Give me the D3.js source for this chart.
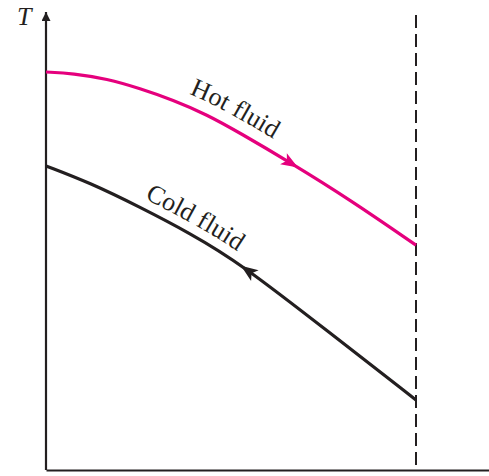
<!DOCTYPE html>
<html>
<head>
<meta charset="utf-8">
<script src="https://cdn.jsdelivr.net/npm/d3@7"></script>
<style>
  body { margin: 0; background: #fff; }
  svg { display: block; }
  .lbl { font-family: "Liberation Serif", "DejaVu Serif", serif; font-size: 26px; fill: #231f20; }
</style>
</head>
<body>
<svg id="chart" width="489" height="476"></svg>
<script>
// position along the exchanger (0 = inlet, 100 = outlet) and temperature
const hotX = [0, 7.3, 16.5, 25.4, 34.3, 43.5, 52.4, 65.9, 82.2, 100];
const hotT = [86.9, 86.6, 85.4, 83.3, 80.8, 77.6, 73.6, 67.2, 59.0, 49.1];
const coldX = [0, 11.9, 25.4, 38.9, 52.4, 76.8, 100];
const coldT = [66.4, 62.7, 57.4, 51.7, 45.2, 29.9, 15.3];
const labels = ['Hot fluid', 'Cold fluid'];

const svg = d3.select('#chart');
const x0 = 46, x1 = 416, yBot = 470, yTop = 12;

const x = d3.scaleLinear().domain([0, 100]).range([x0, x1]);
const y = d3.scaleLinear().domain([0, 100]).range([yBot, yTop]);

const ink = '#231f20';
const magenta = '#e5007d';

// arrow heads
const defs = svg.append('defs');
function marker (id, color, w, h) {
  defs.append('marker')
    .attr('id', id)
    .attr('viewBox', '0 0 10 10')
    .attr('refX', 10).attr('refY', 5)
    .attr('markerWidth', w).attr('markerHeight', h)
    .attr('markerUnits', 'userSpaceOnUse')
    .attr('orient', 'auto')
    .append('path')
    .attr('d', 'M0,0 L10,5 L0,10 Z')
    .attr('fill', color);
}
marker('axArrow', ink, 16, 9);

// axes: just the domain lines, no ticks
const xAxisScale = d3.scaleLinear().domain([0, 1]).range([x0, 489]);
svg.append('g')
  .attr('transform', 'translate(0,' + yBot + ')')
  .call(d3.axisBottom(xAxisScale).tickValues([]).tickSizeOuter(0))
  .select('.domain').attr('stroke', ink).attr('stroke-width', 2.2);

svg.append('g')
  .attr('transform', 'translate(' + x0 + ',0)')
  .call(d3.axisLeft(y).tickValues([]).tickSizeOuter(0))
  .select('.domain').attr('stroke', ink).attr('stroke-width', 2.2)
  .attr('marker-end', 'url(#axArrow)')
  .attr('d', 'M0,' + yBot + 'V' + yTop);

svg.append('text')
  .attr('class', 'lbl')
  .attr('x', 17).attr('y', 25)
  .style('font-style', 'italic')
  .text('T');

// outlet boundary
svg.append('line')
  .attr('x1', x(100)).attr('x2', x(100))
  .attr('y1', 15).attr('y2', yBot)
  .attr('stroke', ink)
  .attr('stroke-width', 2)
  .attr('stroke-dasharray', '13,6');

const line = d3.line()
  .x(d => x(d[0]))
  .y(d => y(d[1]))
  .curve(d3.curveBasis);

const hot = hotX.map((v, i) => [v, hotT[i]]);
const cold = coldX.map((v, i) => [v, coldT[i]]);

const hotPath = svg.append('path')
  .attr('id', 'hotPath')
  .attr('d', line(hot))
  .attr('fill', 'none')
  .attr('stroke', magenta)
  .attr('stroke-width', 3.2);

const coldPath = svg.append('path')
  .attr('id', 'coldPath')
  .attr('d', line(cold))
  .attr('fill', 'none')
  .attr('stroke', ink)
  .attr('stroke-width', 3.2);

function lengthAtX (node, px) {
  let lo = 0, hi = node.getTotalLength();
  for (let k = 0; k < 40; k++) {
    const mid = (lo + hi) / 2;
    if (node.getPointAtLength(mid).x < px) lo = mid; else hi = mid;
  }
  return lo;
}

// flow direction arrows drawn on the curve
function flowArrow (node, tipX, dir, color) {
  const L = lengthAtX(node, tipX);
  const tip = node.getPointAtLength(L);
  const back = node.getPointAtLength(L - dir * 14);
  const ang = Math.atan2(tip.y - back.y, tip.x - back.x) * 180 / Math.PI;
  svg.append('path')
    .attr('d', 'M0,0 L-17,-6.5 L-13,0 L-17,6.5 Z')
    .attr('fill', color)
    .attr('transform', 'translate(' + tip.x + ',' + tip.y + ') rotate(' + ang + ')');
}
flowArrow(hotPath.node(), 298, 1, magenta);
flowArrow(coldPath.node(), 241, -1, ink);

// labels that follow the curves
function curveLabel (id, node, startX, txt, dy) {
  svg.append('text')
    .attr('class', 'lbl')
    .attr('dy', dy)
    .append('textPath')
    .attr('href', '#' + id)
    .attr('startOffset', lengthAtX(node, startX))
    .text(txt);
}
curveLabel('hotPath', hotPath.node(), 184, labels[0], -12);
curveLabel('coldPath', coldPath.node(), 140, labels[1], -10);
</script>
</body>
</html>
